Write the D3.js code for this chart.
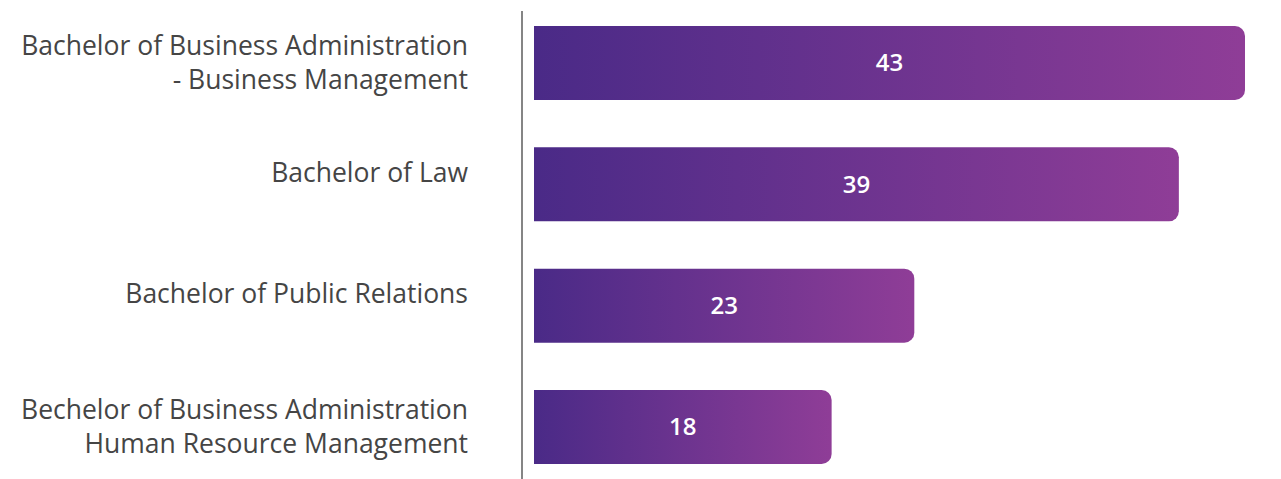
<!DOCTYPE html>
<html>
<head>
<meta charset="utf-8">
<script src="https://cdn.jsdelivr.net/npm/d3@7"></script>
<style>
  html, body { margin: 0; padding: 0; background: #fff; }
  svg { display: block; }
</style>
</head>
<body>
<svg id="chart" width="1281" height="479"></svg>
<script>
const programs = [
    ['Bachelor of Business Administration', '- Business Management'],
    ['Bachelor of Law'],
    ['Bachelor of Public Relations'],
    ['Bechelor of Business Administration', 'Human Resource Management']
];
const counts = [43, 39, 23, 18];

const svg = d3.select('#chart');
const margin = { top: 26, bottom: 15, left: 534, right: 36 };
const width = +svg.attr('width');
const height = +svg.attr('height');

const xScale = d3.scaleLinear()
    .domain([0, d3.max(counts)])
    .range([margin.left, width - margin.right]);

const yScale = d3.scaleBand()
    .domain(d3.range(counts.length))
    .range([margin.top, height - margin.bottom])
    .paddingInner(0.39)
    .paddingOuter(0);

// gradiente por barra
const defs = svg.append('defs');
const grad = defs.append('linearGradient')
    .attr('id', 'barGrad')
    .attr('x1', '0%').attr('x2', '100%')
    .attr('y1', '0%').attr('y2', '0%');
grad.append('stop').attr('offset', '0%').attr('stop-color', '#4a2a87');
grad.append('stop').attr('offset', '100%').attr('stop-color', '#8f3d97');

const r = 10;
function barPath(x0, x1, y0, h) {
    return `M${x0},${y0}H${x1 - r}A${r},${r} 0 0 1 ${x1},${y0 + r}` +
        `V${y0 + h - r}A${r},${r} 0 0 1 ${x1 - r},${y0 + h}H${x0}Z`;
}

svg.selectAll('path.bar')
    .data(counts)
    .join('path')
    .attr('class', 'bar')
    .attr('fill', 'url(#barGrad)')
    .attr('d', (d, i) => barPath(xScale(0), xScale(d), yScale(i), yScale.bandwidth()));

// eje vertical
svg.append('line')
    .attr('x1', 522).attr('x2', 522)
    .attr('y1', 11).attr('y2', height)
    .attr('stroke', '#858585')
    .attr('stroke-width', 2);

// etiquetas de valores
svg.selectAll('text.value')
    .data(counts)
    .join('text')
    .attr('class', 'value')
    .attr('x', d => (xScale(0) + xScale(d)) / 2)
    .attr('y', (d, i) => yScale(i) + yScale.bandwidth() / 2)
    .attr('dy', '0.35em')
    .attr('text-anchor', 'middle')
    .attr('font-family', 'Open Sans')
    .attr('font-weight', 600)
    .attr('font-size', 24)
    .attr('fill', '#fff')
    .text(d => d);

// etiquetas de categorías
const lineH = 34;
const labels = svg.selectAll('text.label')
    .data(programs)
    .join('text')
    .attr('class', 'label')
    .attr('text-anchor', 'end')
    .attr('font-family', 'Open Sans')
    .attr('font-size', 26.5)
    .attr('fill', '#454545')
    .attr('transform', (d, i) => {
        const c = yScale(i) + yScale.bandwidth() / 2;
        const shift = d.length === 1 ? -12 : 0;
        return `translate(468,${c + shift - (d.length - 1) * lineH / 2})`;
    });

labels.selectAll('tspan')
    .data(d => d)
    .join('tspan')
    .attr('x', 0)
    .attr('y', (d, j) => j * lineH)
    .attr('dy', '0.35em')
    .text(d => d);
</script>
</body>
</html>
